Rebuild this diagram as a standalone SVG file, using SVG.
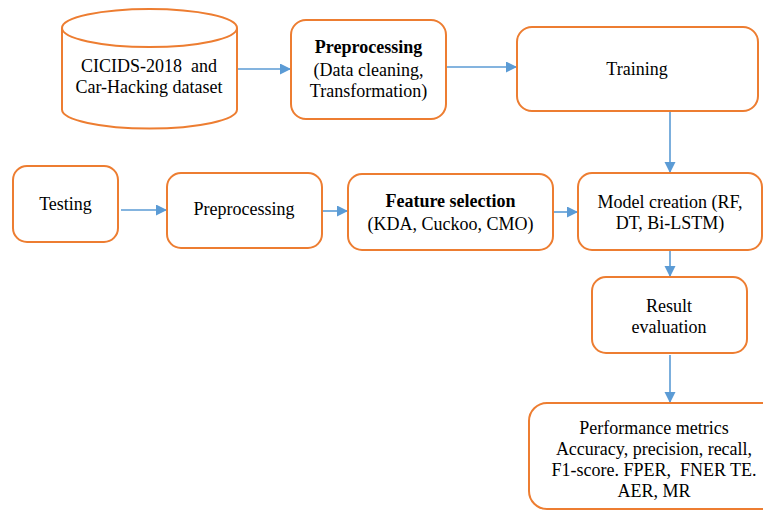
<svg xmlns="http://www.w3.org/2000/svg" width="763" height="514" viewBox="0 0 763 514">
<defs>
<style>
.box{fill:#ffffff;stroke:#ED7D31;stroke-width:2}
.t{font-family:"Liberation Serif","Times New Roman",serif;font-size:18px;fill:#000000;text-anchor:middle}
.b{font-weight:bold}
.c{fill:none;stroke:#5B9BD5;stroke-width:1.6;marker-end:url(#ah)}
</style>
<marker id="ah" markerUnits="userSpaceOnUse" markerWidth="12" markerHeight="12" refX="11" refY="5.5" orient="auto">
<path d="M0,0 L11,5.5 L0,11 Z" fill="#5B9BD5"/>
</marker>
</defs>
<rect width="763" height="514" fill="#ffffff"/>
<g id="connectors">
<line class="c" x1="237" y1="69" x2="291" y2="69"/>
<line class="c" x1="446" y1="67" x2="517" y2="67"/>
<line class="c" x1="670" y1="111" x2="670" y2="173"/>
<line class="c" x1="121" y1="210" x2="167" y2="210"/>
<line class="c" x1="322" y1="211" x2="348" y2="211"/>
<line class="c" x1="553" y1="212" x2="578" y2="212"/>
<line class="c" x1="670" y1="250" x2="670" y2="277"/>
<line class="c" x1="670" y1="355" x2="670" y2="403"/>
</g>
<g id="dataset">
<path class="box" d="M62,28 L62,109.5 A87.5,19 0 0 0 237,109.5 L237,28 A87.5,19 0 0 0 62,28 Z"/>
<path class="box" d="M62,28 A87.5,19 0 0 0 237,28"/>
<text class="t" x="149" y="72" style="white-space:pre">CICIDS-2018  and</text>
<text class="t" x="149" y="93">Car-Hacking dataset</text>
</g>
<g id="preprocessing1">
<rect class="box" x="291" y="20" width="155" height="99" rx="15"/>
<text class="t b" x="368.5" y="53">Preprocessing</text>
<text class="t" x="368.5" y="76">(Data cleaning,</text>
<text class="t" x="368.5" y="97">Transformation)</text>
</g>
<g id="training">
<rect class="box" x="517" y="27" width="241" height="84" rx="15"/>
<text class="t" x="637" y="75">Training</text>
</g>
<g id="testing">
<rect class="box" x="13" y="166" width="105" height="76" rx="14"/>
<text class="t" x="65.5" y="210">Testing</text>
</g>
<g id="preprocessing2">
<rect class="box" x="167" y="173" width="155" height="75" rx="14"/>
<text class="t" x="244" y="215">Preprocessing</text>
</g>
<g id="featureselection">
<rect class="box" x="348" y="174" width="205" height="76" rx="14"/>
<text class="t b" x="450.5" y="207">Feature selection</text>
<text class="t" x="450.5" y="230">(KDA, Cuckoo, CMO)</text>
</g>
<g id="model">
<rect class="box" x="578" y="173" width="184" height="77" rx="14"/>
<text class="t" x="670" y="208">Model creation (RF,</text>
<text class="t" x="670" y="229">DT, Bi-LSTM)</text>
</g>
<g id="result">
<rect class="box" x="592" y="277" width="155" height="76" rx="14"/>
<text class="t" x="669" y="312">Result</text>
<text class="t" x="669" y="333">evaluation</text>
</g>
<g id="performance">
<rect class="box" x="529" y="403" width="250" height="106" rx="18"/>
<text class="t" x="654" y="434">Performance metrics</text>
<text class="t" x="654" y="455">Accuracy, precision, recall,</text>
<text class="t" x="654" y="476" style="white-space:pre">F1-score. FPER,  FNER TE.</text>
<text class="t" x="654" y="497">AER, MR</text>
</g>
</svg>
